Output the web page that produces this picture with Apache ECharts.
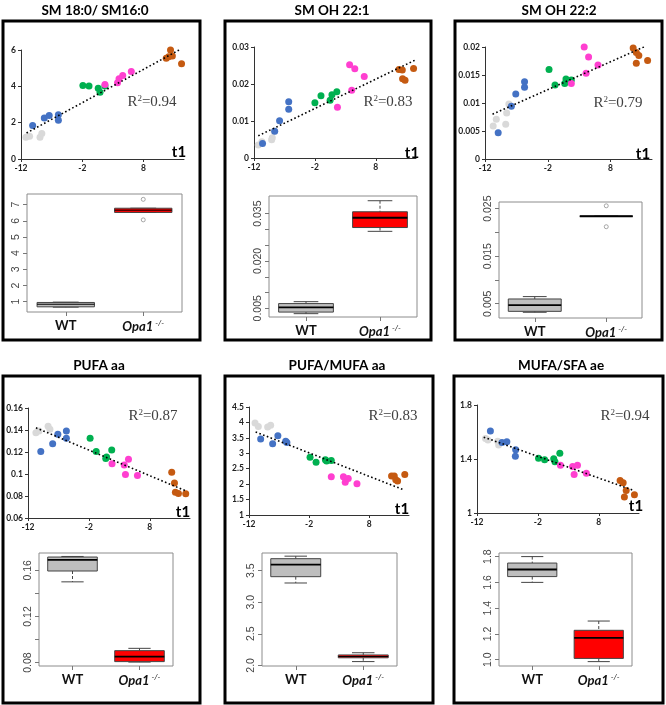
<!DOCTYPE html>
<html>
<head>
<meta charset="UTF-8">
<title>Opa1 lipid ratios</title>
<style>
body { margin:0; padding:0; border:0; background:#fff; }
</style>
<script src="https://cdn.jsdelivr.net/npm/echarts@6/dist/echarts.min.js"></script>
</head>
<body>
<div id="main" style="width:666px;height:705px;"></div>
<script>
// ---- values ----
var panelTitles = ['SM 18:0/ SM16:0', 'SM OH 22:1', 'SM OH 22:2', 'PUFA aa', 'PUFA/MUFA aa', 'MUFA/SFA ae'];
var r2Values = ['0.94', '0.83', '0.79', '0.87', '0.83', '0.94'];
var xTicks = [-12, -2, 8];
var boxCats = ['WT', 'Opa1'];

// each panel: [gray, blue, green, magenta, orange] groups of [t1, value]
var p1Points = [
  [[-11.2,1.2],[-10.6,1.25],[-8.9,1.2],[-8.6,1.4]],
  [[-10.1,1.85],[-8.2,2.26],[-7.4,2.4],[-5.9,2.44],[-5.9,2.13]],
  [[-1.9,4.04],[-0.9,4.02],[0.6,3.9],[0.9,3.67],[1.7,4.02]],
  [[1.7,4.1],[3.75,4.2],[4.0,4.42],[4.6,4.59],[6.0,4.81]],
  [[11.7,5.54],[12.4,6.0],[12.1,5.63],[12.7,5.67],[14.2,5.25]]
];
var p2Points = [
  [[-11.3,0.0035],[-10.7,0.0044],[-9.1,0.0049],[-9.0,0.0055],[-8.7,0.0072]],
  [[-10.6,0.0039],[-8.6,0.0072],[-7.8,0.0101],[-6.3,0.0132],[-6.3,0.0152]],
  [[-2.0,0.0149],[-1.0,0.0168],[0.5,0.0156],[0.8,0.0171],[1.6,0.0179]],
  [[1.7,0.0137],[3.7,0.0252],[4.05,0.0183],[4.55,0.0241],[6.1,0.022]],
  [[11.8,0.0239],[12.35,0.0238],[12.4,0.0214],[12.8,0.021],[14.2,0.0242]]
];
var p3Points = [
  [[-10.7,0.0059],[-10.2,0.0071],[-8.7,0.0062],[-8.55,0.0082],[-8.2,0.0098]],
  [[-9.9,0.0047],[-7.8,0.0094],[-7.1,0.0116],[-5.7,0.0138],[-5.7,0.0128]],
  [[-1.8,0.016],[-0.85,0.0132],[0.7,0.0135],[0.9,0.0143],[1.75,0.0141]],
  [[1.75,0.0135],[3.8,0.02],[4.1,0.0153],[4.5,0.0182],[6.0,0.0168]],
  [[11.6,0.0198],[12.1,0.019],[12.5,0.0185],[12.1,0.0171],[13.9,0.0176]]
];
var p4Points = [
  [[-10.7,0.1374],[-10.2,0.139],[-8.7,0.1434],[-8.4,0.1407]],
  [[-9.9,0.1205],[-7.95,0.1275],[-7.1,0.1362],[-5.7,0.139],[-5.7,0.1325]],
  [[-1.8,0.1326],[-0.8,0.1205],[0.77,0.1142],[0.9,0.1154],[1.75,0.1218]],
  [[1.8,0.1094],[3.8,0.1082],[4.5,0.1133],[4.0,0.0995],[5.97,0.0986]],
  [[11.6,0.1016],[12.05,0.0919],[12.2,0.0835],[12.7,0.0823],[13.9,0.082]]
];
var p5Points = [
  [[-11.0,3.98],[-10.45,3.87],[-8.9,3.85],[-8.4,3.91]],
  [[-10.06,3.46],[-8.07,3.31],[-7.2,3.57],[-5.9,3.39],[-5.7,3.35]],
  [[-1.85,2.87],[-0.85,2.71],[0.7,2.79],[0.9,2.75],[1.68,2.77]],
  [[1.68,2.24],[3.7,2.24],[4.0,2.06],[4.5,2.18],[5.95,2.01]],
  [[11.7,2.26],[12.15,2.26],[12.4,2.14],[12.7,2.1],[13.9,2.31]]
];
var p6Points = [
  [[-10.6,1.552],[-10.2,1.54],[-8.6,1.532],[-8.45,1.503]],
  [[-9.8,1.607],[-7.9,1.523],[-7.1,1.528],[-5.65,1.468],[-5.7,1.421]],
  [[-1.9,1.406],[-0.9,1.394],[0.6,1.401],[0.8,1.379],[1.6,1.443]],
  [[1.7,1.354],[3.7,1.344],[3.95,1.285],[4.5,1.354],[5.96,1.295]],
  [[11.5,1.24],[12.0,1.225],[12.5,1.166],[12.2,1.119],[13.85,1.136]]
];
// dotted trend line end points
var p1Trend = [[-11.1,1.43],[13.8,6.0]];
var p2Trend = [[-11.3,0.006],[14.4,0.0264]];
var p3Trend = [[-10.8,0.008],[13.5,0.0201]];
var p4Trend = [[-10.7,0.142],[13.9,0.0847]];
var p5Trend = [[-10.9,3.69],[13.8,1.81]];
var p6Trend = [[-10.9,1.562],[13.8,1.166]];

var scatterYRange = [[0,6],[0,0.03],[0,0.02],[0.06,0.16],[1,4.5],[1,1.8]];
var scatterYTicks = [
  [0,2,4,6],
  [0,0.01,0.02,0.03],
  [0,0.005,0.01,0.015,0.02],
  [0.06,0.08,0.1,0.12,0.14,0.16],
  [1,1.5,2,2.5,3,3.5,4,4.5],
  [1,1.4,1.8]
];

// boxplots: [min, q1, median, q3, max] for WT and Opa1-/-
var p1WT = [0.66,0.68,0.84,0.95,0.97];
var p1Opa1 = [6.52,6.52,6.66,6.78,6.78];
var p2WT = [0.0033,0.0038,0.0053,0.0065,0.0071];
var p2Opa1 = [0.0294,0.0306,0.0337,0.0356,0.0391];
var p3WT = [0.0032,0.0034,0.0047,0.006,0.0065];
var p3Opa1 = [0.0234,0.0234,0.0234,0.0234,0.0234];
var p4WT = [0.150,0.1594,0.169,0.1715,0.172];
var p4Opa1 = [0.0805,0.0809,0.0852,0.0904,0.0924];
var p5WT = [3.305,3.405,3.595,3.69,3.73];
var p5Opa1 = [2.06,2.12,2.14,2.165,2.2];
var p6WT = [1.6,1.645,1.70,1.75,1.80];
var p6Opa1 = [0.985,1.01,1.17,1.228,1.30];
var p1Outliers = [[1,7.33],[1,6.06]];
var p3Outliers = [[1,0.0256],[1,0.0212]];

var boxYRange = [[0.36,7.66],[0.00224,0.0406],[0.002,0.0264],[0.0771,0.175],[1.99,3.78],[0.951,1.828]];
var boxYTicks = [
  [1,2,3,4,5,6,7],
  [0.005,0.01,0.015,0.02,0.025,0.03,0.035],
  [0.005,0.01,0.015,0.02,0.025],
  [0.08,0.1,0.12,0.14,0.16],
  [2,2.5,3,3.5],
  [1,1.2,1.4,1.6,1.8]
];
var boxYLabels = [
  [1,2,3,4,5,6,7],
  [0.005,0.02,0.035],
  [0.005,0.015,0.025],
  [0.08,0.12,0.16],
  [2,2.5,3,3.5],
  [1,1.2,1.4,1.6,1.8]
];
var boxYDecimals = [0,3,3,2,1,1];

// ---- layout / styling ----
var groupColors = ['#d9d9d9','#4472c4','#00b050','#ff3fd0','#c55a11'];
var boxFills = ['#bebebe','#ff0000'];
var scatterGrids = [[21,50,163,109],[254,47,162,111],[485,47,167,112],[28,408,162,110],[249,407,160,108],[477,405,162,108]];
var boxGrids = [[27,194,155,118],[269,196,148,121],[499,202,143,116],[39,553,134,113],[262,553,135,113],[499,553,133,113]];
var frames = [[3,21,197,319],[225,21,206,319],[455,21,207,319],[3,376,197,327],[225,376,208,327],[454,376,209,327]];
var titlePos = [[95,11],[332,11],[559,11],[99,366],[337,366],[561,366]];
var r2Pos = [[152,102],[388,102],[618,103],[153,416],[393,416],[625,416]];
var t1Pos = [[179,152],[412,153],[643,154],[183,512],[402,509],[636,506]];

var allPoints = [p1Points,p2Points,p3Points,p4Points,p5Points,p6Points];
var allTrends = [p1Trend,p2Trend,p3Trend,p4Trend,p5Trend,p6Trend];
var allBoxes = [[p1WT,p1Opa1],[p2WT,p2Opa1],[p3WT,p3Opa1],[p4WT,p4Opa1],[p5WT,p5Opa1],[p6WT,p6Opa1]];

function renderBox(params, api) {
  var c = api.value(0);
  var lo = api.coord([c, api.value(1)]);
  var q1 = api.coord([c, api.value(2)]);
  var md = api.coord([c, api.value(3)]);
  var q3 = api.coord([c, api.value(4)]);
  var hi = api.coord([c, api.value(5)]);
  var band = api.size([1, 0])[0];
  var hw = band * 0.37;
  var cw = hw * 0.45;
  var x = lo[0];
  var edge = '#444';
  var h = q1[1] - q3[1];
  return {
    type: 'group',
    children: [
      {type:'line', shape:{x1:x,y1:hi[1],x2:x,y2:q3[1]}, style:{stroke:edge,lineWidth:1,lineDash:[3,2]}},
      {type:'line', shape:{x1:x,y1:q1[1],x2:x,y2:lo[1]}, style:{stroke:edge,lineWidth:1,lineDash:[3,2]}},
      {type:'line', shape:{x1:x-cw,y1:hi[1],x2:x+cw,y2:hi[1]}, style:{stroke:edge,lineWidth:1}},
      {type:'line', shape:{x1:x-cw,y1:lo[1],x2:x+cw,y2:lo[1]}, style:{stroke:edge,lineWidth:1}},
      {type:'rect', shape:{x:x-hw,y:q3[1],width:hw*2,height:h}, style:{fill:boxFills[c],stroke:edge,lineWidth:1}},
      {type:'line', shape:{x1:x-hw,y1:md[1],x2:x+hw,y2:md[1]}, style:{stroke:'#000',lineWidth:(h > 0 && h < 6) ? 1 : 1.8}}
    ]
  };
}

var grids = [], xAxes = [], yAxes = [], series = [], graphics = [];

for (var p = 0; p < 6; p++) {
  var g = scatterGrids[p];
  grids.push({left:g[0], top:g[1], width:g[2], height:g[3]});
  xAxes.push({
    type:'value', gridIndex:p, min:-12, max:14.6,
    axisLine:{onZero:false, lineStyle:{color:'#333', width:1}},
    axisTick:{show:true, length:3, lineStyle:{color:'#333'}, customValues:xTicks},
    axisLabel:{customValues:xTicks, color:'#222', fontSize:8.5, fontWeight:'bold', fontFamily:'Lato', margin:5},
    splitLine:{show:false}
  });
  yAxes.push({
    type:'value', gridIndex:p, min:scatterYRange[p][0], max:scatterYRange[p][1],
    axisLine:{show:true, onZero:false, lineStyle:{color:'#333', width:1}},
    axisTick:{show:true, length:3, lineStyle:{color:'#333'}, customValues:scatterYTicks[p]},
    axisLabel:{customValues:scatterYTicks[p], color:'#222', fontSize:8.5, fontWeight:'bold', fontFamily:'Lato', margin:5},
    splitLine:{show:false}
  });
  for (var k = 0; k < 5; k++) {
    series.push({
      type:'scatter', xAxisIndex:p, yAxisIndex:p, data:allPoints[p][k],
      symbolSize:7, itemStyle:{color:groupColors[k], opacity:1}, z:2
    });
  }
  series.push({
    type:'line', xAxisIndex:p, yAxisIndex:p, data:allTrends[p], symbol:'none',
    lineStyle:{color:'#000', width:1.6, type:[1.6,2.4]}, z:3, silent:true
  });
}

for (var p = 0; p < 6; p++) {
  var b = boxGrids[p];
  var idx = p + 6;
  grids.push({left:b[0], top:b[1], width:b[2], height:b[3], show:true, borderColor:'#8c8c8c', borderWidth:1});
  xAxes.push({
    type:'category', gridIndex:idx, data:boxCats,
    axisLine:{show:false},
    axisTick:{show:true, alignWithLabel:true, length:4, lineStyle:{color:'#777'}},
    axisLabel:{
      interval:0, hideOverlap:false, margin:7,
      formatter:function (v) { return v === 'WT' ? '{b|WT}' : '{i|Opa1}{s| -/-}'; },
      rich:{
        b:{fontFamily:'Lato', fontWeight:'bold', fontSize:13, color:'#111'},
        i:{fontFamily:'Lato', fontWeight:'bold', fontStyle:'italic', fontSize:13, color:'#111'},
        s:{fontFamily:'Lato', fontStyle:'italic', fontSize:8, color:'#111', verticalAlign:'top', padding:[0,0,8,0]}
      }
    }
  });
  (function (dec) {
    yAxes.push({
      type:'value', gridIndex:idx, min:boxYRange[p][0], max:boxYRange[p][1],
      axisLine:{show:false},
      axisTick:{show:true, length:4, lineStyle:{color:'#777'}, customValues:boxYTicks[p]},
      axisLabel:{customValues:boxYLabels[p], rotate:90, color:'#444', fontSize:10.5, fontFamily:'Liberation Sans', margin:5,
        formatter:function (v) { return Number(v).toFixed(dec); }},
      splitLine:{show:false}
    });
  })(boxYDecimals[p]);
  series.push({
    type:'custom', xAxisIndex:idx, yAxisIndex:idx, renderItem:renderBox,
    encode:{x:0, y:[1,2,3,4,5]},
    data:[[0].concat(allBoxes[p][0]), [1].concat(allBoxes[p][1])]
  });
}

series.push({type:'scatter', xAxisIndex:6, yAxisIndex:6, data:p1Outliers, symbolSize:4,
  itemStyle:{color:'#fff', borderColor:'#777', borderWidth:0.8}});
series.push({type:'scatter', xAxisIndex:8, yAxisIndex:8, data:p3Outliers, symbolSize:4,
  itemStyle:{color:'#fff', borderColor:'#777', borderWidth:0.8}});

for (var p = 0; p < 6; p++) {
  var f = frames[p];
  graphics.push({type:'rect', shape:{x:f[0], y:f[1], width:f[2], height:f[3]},
    style:{fill:null, stroke:'#000', lineWidth:3}, z:10});
  graphics.push({type:'text', x:titlePos[p][0], y:titlePos[p][1],
    style:{text:panelTitles[p], fontFamily:'Lato', fontWeight:'bold', fontSize:13.5, fill:'#000',
      align:'center', verticalAlign:'middle', textAlign:'center', textVerticalAlign:'middle'}});
  graphics.push({type:'text', x:r2Pos[p][0], y:r2Pos[p][1],
    style:{text:'R{s|2}=' + r2Values[p], fontFamily:'Liberation Serif', fontSize:15, fill:'#404040',
      align:'center', verticalAlign:'middle', textAlign:'center', textVerticalAlign:'middle',
      rich:{s:{fontFamily:'Liberation Serif', fontSize:9, fill:'#404040', verticalAlign:'top', padding:[0,0,7,0]}}}});
  graphics.push({type:'text', x:t1Pos[p][0], y:t1Pos[p][1],
    style:{text:'t1', fontFamily:'Lato', fontWeight:'bold', fontSize:15, fill:'#000',
      align:'center', verticalAlign:'middle', textAlign:'center', textVerticalAlign:'middle'}});
}

var myChart = echarts.init(document.getElementById('main'));
myChart.setOption({
  animation:false,
  backgroundColor:'#fff',
  grid:grids,
  xAxis:xAxes,
  yAxis:yAxes,
  series:series,
  graphic:graphics
});
</script>
</body>
</html>
